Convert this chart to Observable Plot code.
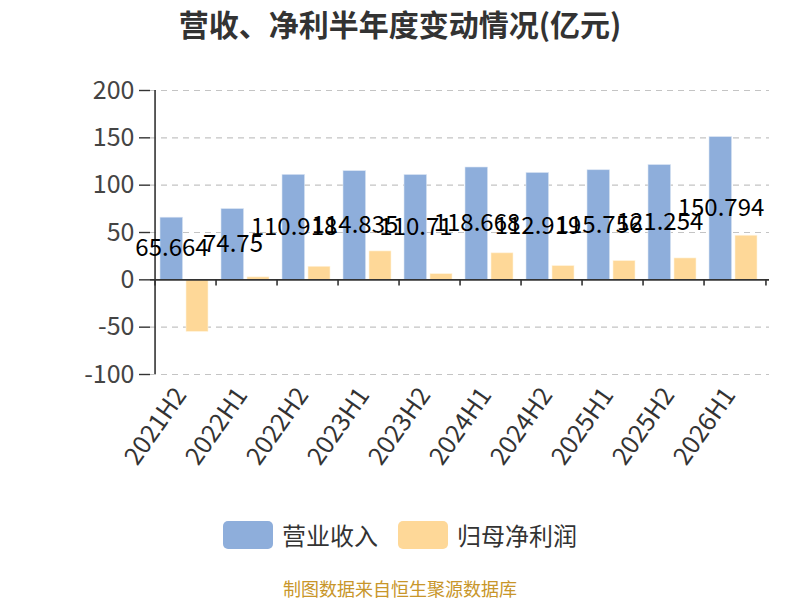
<!DOCTYPE html>
<html><head><meta charset="utf-8">
<script src="https://cdn.jsdelivr.net/npm/d3@7"></script>
<script src="https://cdn.jsdelivr.net/npm/@observablehq/plot@0.6"></script>
<style>
body{margin:0;background:#fff;font-family:"Noto Sans CJK SC","Noto Sans",sans-serif;}
#wrap{position:relative;width:800px;height:600px;overflow:hidden;}
#title{position:absolute;top:1px;left:0;width:800px;text-align:center;font-size:30px;line-height:44px;font-weight:bold;color:#333;}
#legend{position:absolute;top:517px;left:0;width:800px;display:flex;justify-content:center;align-items:center;font-size:24px;line-height:36px;color:#333;}
.sw{display:inline-block;width:50px;height:28px;border-radius:5px;margin-right:9px;}
#caption{position:absolute;top:576px;left:0;width:800px;text-align:center;font-size:18px;line-height:24px;color:#c8962a;}
#chart{position:absolute;top:0;left:0;}
</style></head>
<body><div id="wrap">
<div id="title">营收、净利半年度变动情况(亿元)</div>
<div id="chart"></div>
<div id="legend"><span class="sw" style="background:#8eaedb"></span><span style="margin-right:20px">营业收入</span><span class="sw" style="background:#fed898"></span><span>归母净利润</span></div>
<div id="caption">制图数据来自恒生聚源数据库</div>
</div>
<script>
const periods = ["2021H2","2022H1","2022H2","2023H1","2023H2","2024H1","2024H2","2025H1","2025H2","2026H1"];
const revenue = [65.664,74.75,110.918,114.835,110.71,118.668,112.919,115.756,121.254,150.794];
const netProfit = [-55,2.6,13.8,30,6,28,14.5,19.8,22.6,46.6];
const yTicks = [-100,-50,0,50,100,150,200];

const W = 800, ML = 150, MR = 31;
const band = (W - ML - MR) / periods.length;
const rows = periods.map((p,i)=>({p, rev: revenue[i], np: netProfit[i]}));

const chart = Plot.plot({
  width: W, height: 500,
  marginLeft: ML, marginRight: MR, marginTop: 90, marginBottom: 126,
  x: {domain: periods, padding: 0, label: null},
  y: {domain: [-100, 200], label: null},
  style: {fontFamily: '"Noto Sans CJK SC","Noto Sans",sans-serif', color: "#333", background: "transparent"},
  marks: [
    Plot.gridY(yTicks.filter(d=>d!==0), {stroke: "#c4c4c4", strokeOpacity: 1, strokeDasharray: "6,5", strokeWidth: 1.2}),
    Plot.axisY({ticks: yTicks, tickFormat: d => String(d), tickSize: 11, tickPadding: 5, fontSize: 25, fill: "#444", stroke: "#333", strokeWidth: 1.4}),
    Plot.axisX({tickSize: 0, tickRotate: -55, fontSize: 25, fill: "#333", tickPadding: 16, textAnchor: "end", dx: -5}),
    Plot.barY(rows, {x: "p", y: "rev", fill: "#8eaedb", insetLeft: 5, insetRight: band - 28.5, stroke: "#dde6f4", strokeWidth: 0.6}),
    Plot.barY(rows, {x: "p", y: "np", fill: "#fed898", insetLeft: 31, insetRight: 8, stroke: "#fff3dc", strokeWidth: 0.6}),
    Plot.ruleY([0], {stroke: "#333", strokeWidth: 1.6}),
    Plot.ruleX([periods[0]], {y1: -100, y2: 200, dx: -band/2, stroke: "#333", strokeWidth: 1.6}),
    Plot.ruleX(periods, {y1: 0, y2: -6.5, dx: -band/2, stroke: "#333", strokeWidth: 1.6}),
    Plot.ruleX([periods[periods.length-1]], {y1: 0, y2: -6.5, dx: band/2, stroke: "#333", strokeWidth: 1.6}),
    Plot.text(rows, {x: "p", y: d => d.rev/2, text: d => String(d.rev), dx: -14, fontSize: 24, fill: "#000"})
  ]
});
document.getElementById("chart").appendChild(chart);
</script>
</body></html>
